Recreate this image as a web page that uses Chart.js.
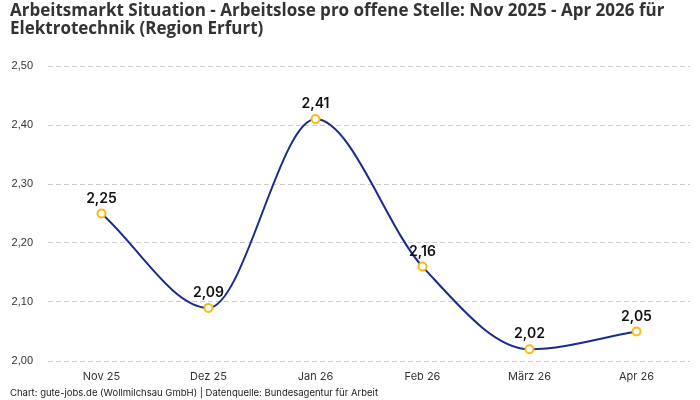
<!DOCTYPE html>
<html>
<head>
<meta charset="utf-8">
<script src="https://cdn.jsdelivr.net/npm/chart.js@4/dist/chart.umd.min.js"></script>
<style>
  html, body { margin: 0; padding: 0; background: #fff; }
  #wrap { width: 700px; height: 400px; position: relative; }
</style>
</head>
<body>
<div id="wrap"><canvas id="chart"></canvas></div>
<script>
// Data
const months = ['Nov 25', 'Dez 25', 'Jan 26', 'Feb 26', 'März 26', 'Apr 26'];
const ratio = [2.25, 2.09, 2.41, 2.16, 2.02, 2.05];
const yTicks = [2.0, 2.1, 2.2, 2.3, 2.4, 2.5];

const titleLines = [
    'Arbeitsmarkt Situation - Arbeitslose pro offene Stelle: Nov 2025 - Apr 2026 für',
    'Elektrotechnik (Region Erfurt)'
];
const sourceText = 'Chart: gute-jobs.de (Wollmilchsau GmbH) | Datenquelle: Bundesagentur für Arbeit';

function fmt(v) {
    return v.toFixed(2).replace('.', ',');
}

// draws the value above each point, the title and the source line
const textLayer = {
    id: 'textLayer',
    afterDatasetsDraw(chart) {
        const ctx = chart.ctx;
        const meta = chart.getDatasetMeta(0);
        ctx.save();
        ctx.font = '600 14px Inter, "Noto Sans", sans-serif';
        ctx.fillStyle = '#111';
        ctx.textAlign = 'center';
        ctx.textBaseline = 'bottom';
        meta.data.forEach(function(pt, i) {
            ctx.fillText(fmt(ratio[i]), pt.x, pt.y - 8);
        });

        // title, sized so the first line spans the same width as the original
        ctx.font = 'bold 16px "Open Sans", sans-serif';
        let w = ctx.measureText(titleLines[0]).width;
        let size = Math.min(17, 16 * 684 / w);
        ctx.font = 'bold ' + size.toFixed(1) + 'px "Open Sans", sans-serif';
        ctx.fillStyle = '#333';
        ctx.textAlign = 'left';
        ctx.textBaseline = 'middle';
        titleLines.forEach(function(line, i) {
            ctx.fillText(line, 10, 11 + i * 18);
        });

        // source
        ctx.font = '9.5px Inter, "Noto Sans", sans-serif';
        ctx.fillStyle = '#222';
        ctx.fillText(sourceText, 10, 393);
        ctx.restore();
    }
};

const ctx = document.getElementById('chart').getContext('2d');
new Chart(ctx, {
    type: 'line',
    data: {
        labels: months,
        datasets: [{
            data: ratio,
            borderColor: '#1b2a8f',
            borderWidth: 2,
            cubicInterpolationMode: 'monotone',
            fill: false,
            pointRadius: 4,
            pointBorderWidth: 2,
            pointBackgroundColor: '#ffffff',
            pointBorderColor: '#f7bb12'
        }]
    },
    options: {
        responsive: true,
        maintainAspectRatio: false,
        animation: false,
        layout: {
            padding: { left: 0, right: 10, top: 66, bottom: 17 }
        },
        scales: {
            x: {
                offset: true,
                grid: { display: false, drawTicks: false },
                border: { display: false },
                afterFit: function(axis) { axis.height = 22; },
                ticks: {
                    color: '#333',
                    padding: 9,
                    maxRotation: 0,
                    font: { family: 'Inter, "Noto Sans", sans-serif', size: 11 }
                }
            },
            y: {
                min: 2.0,
                max: 2.5,
                afterBuildTicks: function(axis) {
                    axis.ticks = yTicks.map(v => ({ value: v }));
                },
                afterFit: function(axis) { axis.width = 48; },
                border: { display: false, dash: [5, 3] },
                grid: { color: '#cccccc', drawTicks: false },
                ticks: {
                    color: '#333',
                    padding: 15,
                    font: { family: '"Liberation Sans", Arial, sans-serif', size: 11 },
                    callback: function(v) { return fmt(v); }
                }
            }
        },
        plugins: {
            legend: { display: false },
            tooltip: { enabled: false },
            title: { display: false }
        }
    },
    plugins: [textLayer]
});
</script>
</body>
</html>
